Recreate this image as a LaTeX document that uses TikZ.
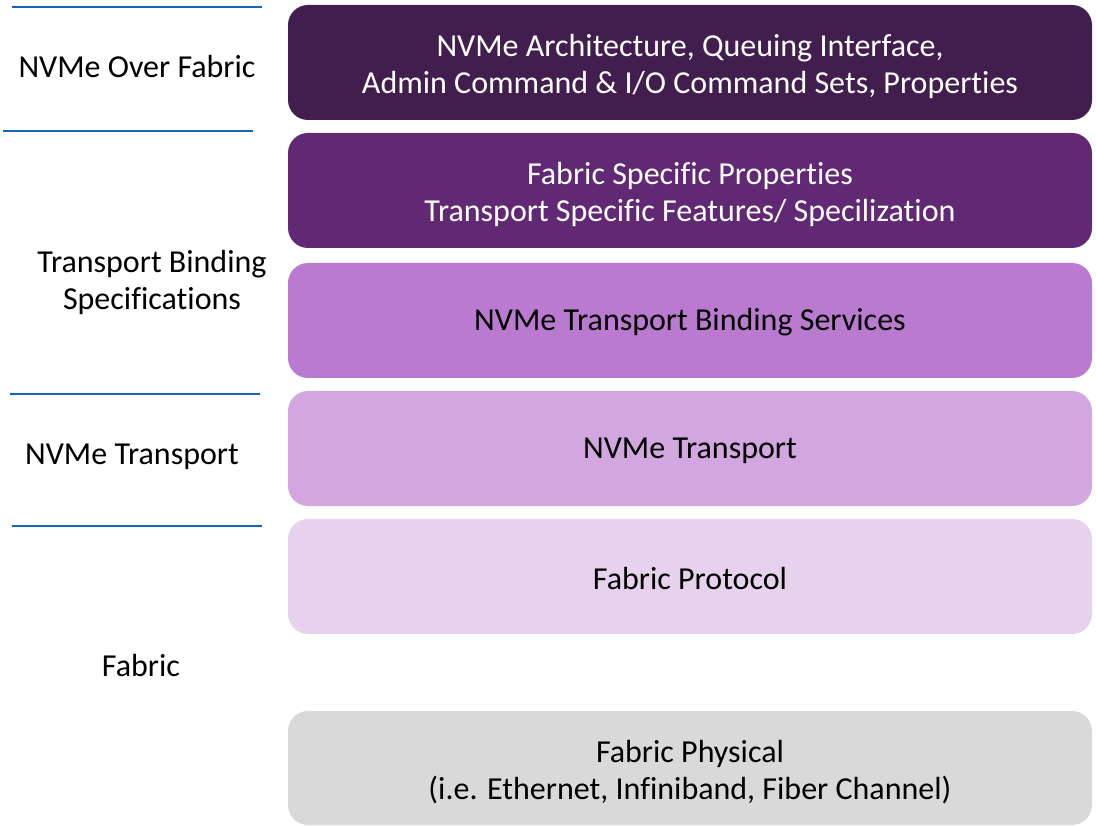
\documentclass[tikz,border=0pt]{standalone}
\usepackage{fontspec}
\setmainfont{Carlito}[Ligatures=NoCommon]
\definecolor{layerA}{RGB}{66,30,78}
\definecolor{layerB}{RGB}{97,41,116}
\definecolor{layerC}{RGB}{186,122,207}
\definecolor{layerD}{RGB}{210,166,222}
\definecolor{layerE}{RGB}{230,210,236}
\definecolor{layerF}{RGB}{217,217,217}
\definecolor{rule}{RGB}{21,101,192}
\tikzset{
  layer/.style={rounded corners=20pt, draw=none},
  layertext/.style={font=\fontsize{32}{37}\selectfont, align=center},
  sidetext/.style={font=\fontsize{32}{37}\selectfont, align=center, text=black},
  divider/.style={draw=rule, line width=2pt}
}
\begin{document}
\begin{tikzpicture}[x=1pt,y=-1pt]
\useasboundingbox (0,0) rectangle (1096,826);
% stacked layers
\fill[layer, fill=layerA] (288,5) rectangle (1092,120);
\fill[layer, fill=layerB] (288,133) rectangle (1092,248);
\fill[layer, fill=layerC] (288,263) rectangle (1092,378);
\fill[layer, fill=layerD] (288,391) rectangle (1092,506);
\fill[layer, fill=layerE] (288,519) rectangle (1092,634);
\fill[layer, fill=layerF] (288,711) rectangle (1092,825);
% layer captions
\node[layertext, text=white] (arch) at (690,66) {NVMe Architecture, Queuing Interface,\\Admin Command \& I/O Command Sets, Properties};
\node[layertext, text=white] (fsp) at (690,194) {Fabric Specific Properties\\Transport Specific Features/ Specilization};
\node[layertext] (tbs) at (690,322) {NVMe Transport Binding Services};
\node[layertext] (tr) at (690,451) {NVMe Transport};
\node[layertext] (fp) at (690,579) {Fabric Protocol};
\node[layertext] (phy) at (690,772) {Fabric Physical\\(i.e. Ethernet, Infiniband, Fiber Channel)};
% side labels
\node[sidetext] (lnof) at (137,67) {NVMe Over Fabric};
\node[sidetext] (ltbs) at (152,282) {Transport Binding\\Specifications};
\node[sidetext] (lnt) at (132,457) {NVMe Transport};
\node[sidetext] (lfab) at (141,666) {Fabric};
% dividers
\coordinate (d1a) at (12,7);   \coordinate (d1b) at (262,7);
\coordinate (d2a) at (3,131);  \coordinate (d2b) at (253,131);
\coordinate (d3a) at (10,394); \coordinate (d3b) at (260,394);
\coordinate (d4a) at (12,526); \coordinate (d4b) at (262,526);
\draw[divider] (d1a) -- (d1b);
\draw[divider] (d2a) -- (d2b);
\draw[divider] (d3a) -- (d3b);
\draw[divider] (d4a) -- (d4b);
\end{tikzpicture}
\end{document}
